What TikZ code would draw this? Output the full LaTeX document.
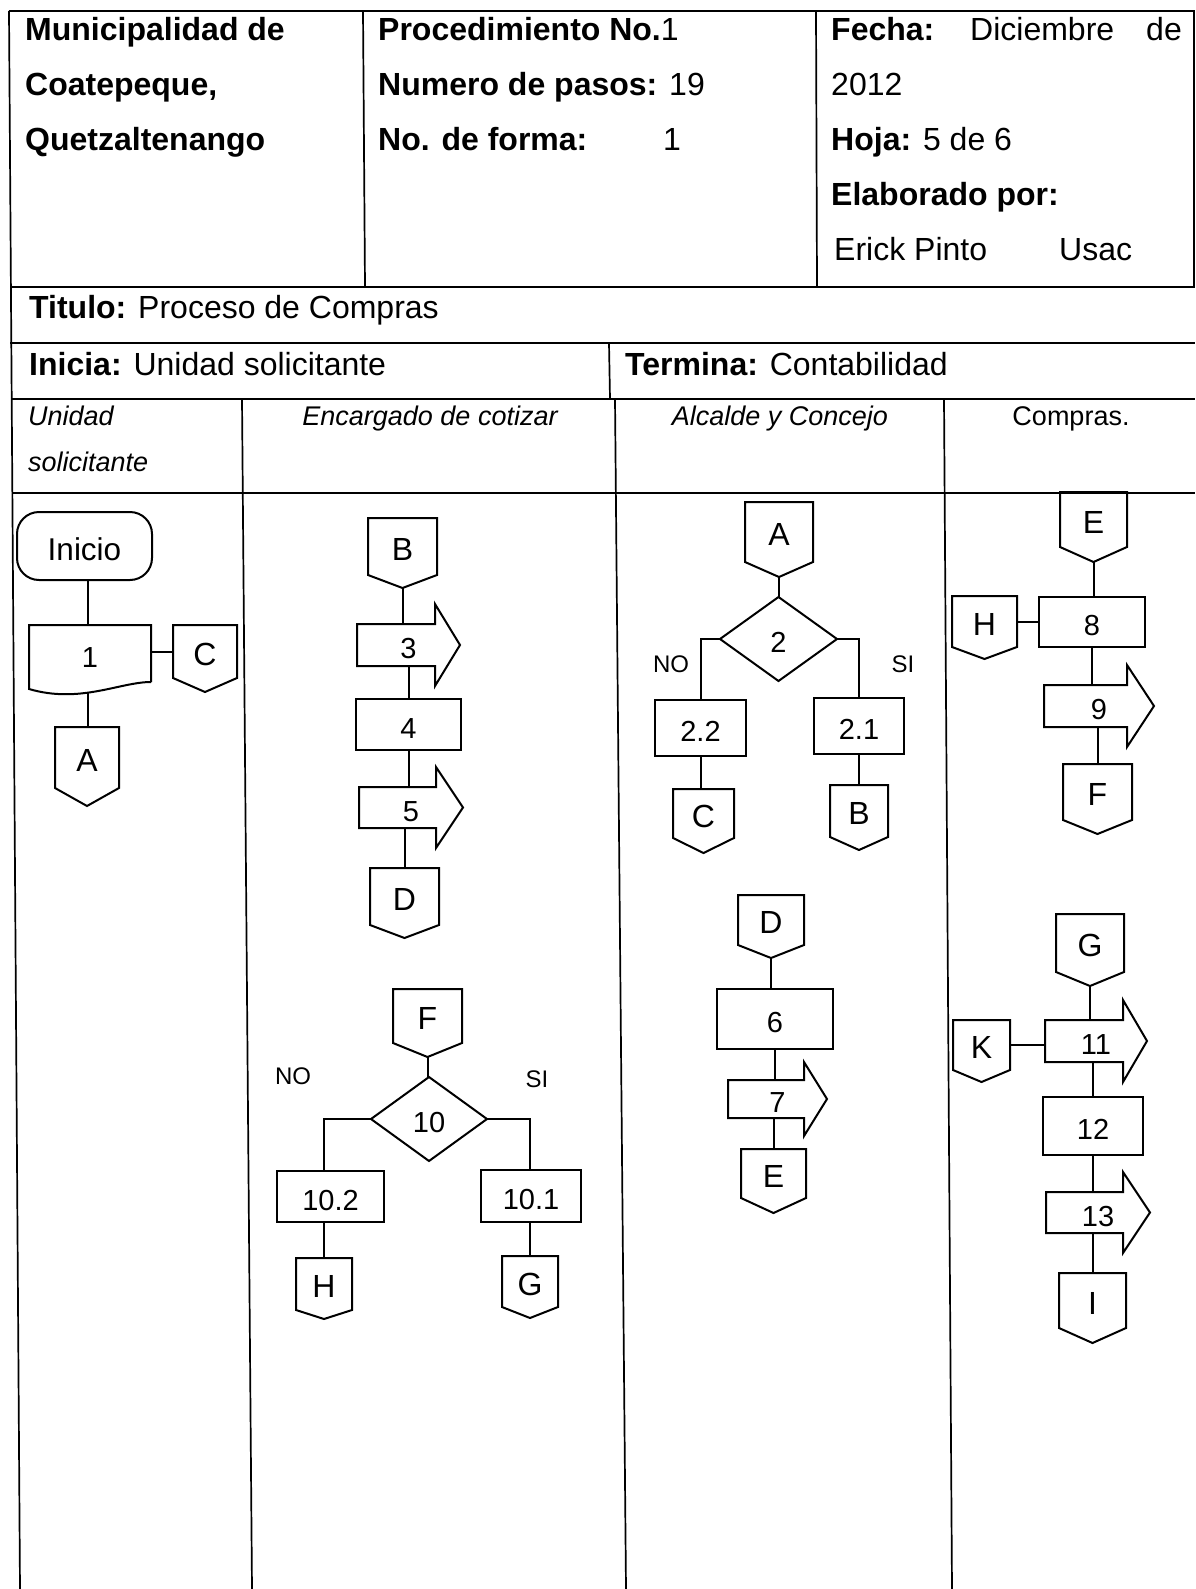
\documentclass[tikz,border=0pt]{standalone}
\usepackage{fontspec}
\setmainfont{Liberation Sans}
\usetikzlibrary{shapes.geometric}
\tikzset{
  shp/.style={line width=2pt, line join=miter},
  frm/.style={line width=1.7pt},
  con/.style={line width=2pt},
  txt/.style={inner sep=0pt, outer sep=0pt, text height=27.4pt, text depth=0pt, font=\fontsize{29}{30}\selectfont},
  ltr/.style={font=\fontsize{32}{33}\selectfont},
  pbx/.style={txt, draw, line width=2pt},
  hd/.style={anchor=base west, inner sep=0pt, font=\fontsize{32}{36}\selectfont},
  lh/.style={anchor=base, inner sep=0pt, font=\fontsize{27}{30}\selectfont\itshape},
  lbl/.style={inner sep=0pt, font=\fontsize{24}{26}\selectfont},
}
% off-page connector: name, xl, xr, ytop, yside, ytip, label
\newcommand{\offp}[7]{%
  \node[txt, ltr, minimum width={(#3-#2)*1pt}, minimum height={(#5-#4)*1pt}] (#1) at ({(#2+#3)/2},{(#4+#5)/2}) {#7};
  \draw[shp] (#1.south west) -- (#1.north west) -- (#1.north east) -- (#1.south east) -- ({(#2+#3)/2},#6) coordinate (#1-tip) -- cycle;
}
% arrow box: name, xl, ytop, xhead, ybot, xtip, ext, label
\newcommand{\arrbox}[8]{%
  \node[txt, minimum width={(#6-#2)*1pt}, minimum height={(#5-#3)*1pt}] (#1) at ({(#2+#6)/2},{(#3+#5)/2}) {#8};
  \draw[shp] (#2,#5) -- (#2,#3) -- (#4,#3) -- (#4,{#3-#7}) -- (#6,{(#3+#5)/2}) -- (#4,{#5+#7}) -- (#4,#5) -- cycle;
}
% process box: name, xl, xr, ytop, ybot, label
\newcommand{\pbox}[6]{%
  \node[pbx, minimum width={(#3-#2)*1pt}, minimum height={(#5-#4)*1pt}] (#1) at ({(#2+#3)/2},{(#4+#5)/2}) {#6};
}
\begin{document}
\begin{tikzpicture}[x=1pt,y=-1pt]
\useasboundingbox (0,0) rectangle (1195,1589);
\fill[white] (0,0) rectangle (1195,1589);

% ---------- frame ----------
\draw[frm] (9,11) -- (1195,11);
\draw[frm] (9,11) -- (20,1589);
\draw[frm] (1194,11) -- (1194,287);
\draw[frm] (363,11) -- (365,287);
\draw[frm] (816,11) -- (817,287);
\draw[frm] (10,287) -- (1195,287);
\draw[frm] (10,343) -- (1195,343);
\draw[frm] (11,399) -- (1195,399);
\draw[frm] (12,493) -- (1195,493);
\draw[frm] (609,343) -- (610,399);
\draw[frm] (242,399) -- (252,1589);
\draw[frm] (615,399) -- (626,1589);
\draw[frm] (944,399) -- (952,1589);

% ---------- header texts ----------
\node[hd] (h1) at (25,41) {\textbf{Municipalidad de}};
\node[hd] (h2) at (25,96) {\textbf{Coatepeque,}};
\node[hd] (h3) at (25,151) {\textbf{Quetzaltenango}};
\node[hd] (m1) at (378,41) {\textbf{Procedimiento No.}1};
\node[hd] (m2) at (378,96) {\textbf{Numero de pasos:} 19};
\node[hd] (m3) at (378,151) {\textbf{No. de forma:}};
\node[hd, anchor=base] (m3n) at (672,151) {1};
\node[hd] (r1) at (831,41) {\textbf{Fecha:}};
\node[hd] (r1b) at (970,41) {Diciembre};
\node[hd, anchor=base east] (r1c) at (1182,41) {de};
\node[hd] (r2) at (831,96) {2012};
\node[hd] (r3) at (831,151) {\textbf{Hoja:} 5 de 6};
\node[hd] (r4) at (831,206) {\textbf{Elaborado por:}};
\node[hd] (r5) at (834,261) {Erick Pinto};
\node[hd] (r5b) at (1059,261) {Usac};
\node[hd] (tit) at (29,318) {\textbf{Titulo:} Proceso de Compras};
\node[hd] (ini1) at (29,375) {\textbf{Inicia:} Unidad solicitante};
\node[hd] (ter1) at (625,375) {\textbf{Termina:} Contabilidad};

% ---------- lane headers ----------
\node[lh, anchor=base west] (l1a) at (28,425) {Unidad};
\node[lh, anchor=base west] (l1b) at (28,471) {solicitante};
\node[lh] (l2) at (430,425) {Encargado de cotizar};
\node[lh] (l3) at (780,425) {Alcalde y Concejo};
\node[lh, font=\fontsize{27}{30}\selectfont\upshape] (l4) at (1071,425) {Compras.};

% ---------- lane 1: Unidad solicitante ----------
\node[txt, draw, line width=2pt, rounded corners=22pt, minimum width=135, minimum height=68, text height=28.5pt, font=\fontsize{31.5}{32}\selectfont] (ini) at (84.5,546) {Inicio};
\node[txt, minimum width=122, minimum height=57] (b1) at (90,653.5) {1};
\draw[shp] (151,682) -- (151,625) -- (29,625) -- (29,689) .. controls (80,704) and (120,682) .. (151,682);
\coordinate (b1bot) at (88,693);
\offp{C1}{173}{237}{625}{678}{692}{C}
\offp{A1}{55}{119}{727}{788}{806}{A}
\draw[con] (ini.south -| b1bot) -- (b1.north -| b1bot);
\draw[con] (b1bot) -- (b1bot |- A1.north);
\draw[con] (b1.east |- C1.west) -- (C1.west);

% ---------- lane 2: Encargado de cotizar ----------
\offp{B2}{368}{437}{518}{575}{588}{B}
\arrbox{a3}{357}{624}{435}{666}{460}{20}{3}
\pbox{b4}{356}{461}{699}{750}{4}
\arrbox{a5}{359}{787}{436}{828}{463}{20}{5}
\offp{D2}{370}{439}{868}{925}{938}{D}
\draw[con] (B2-tip) -- (B2-tip |- a3.north);
\draw[con] (b4.north) -- (b4.north |- a3.south);
\draw[con] (b4.south) -- (b4.south |- a5.north);
\draw[con] (D2.north) -- (D2.north |- a5.south);

\offp{F2}{393}{462}{989}{1043}{1057}{F}
\node[txt, diamond, draw, line width=2pt, minimum width=116, minimum height=84] (d10) at (429,1119) {10};
\pbox{b102}{277}{384}{1171}{1222}{10.2}
\pbox{b101}{481}{581}{1170}{1222}{10.1}
\offp{H2}{296}{352}{1258}{1310}{1319}{H}
\offp{G2}{502}{558}{1256}{1307}{1318}{G}
\node[lbl] (no10) at (293,1076) {NO};
\node[lbl] (si10) at (537,1079) {SI};
\draw[con] (F2-tip) -- (F2-tip |- d10.north);
\draw[con] (d10.west) -| (b102.north -| H2.north);
\draw[con] (d10.east) -| (b101.north -| G2.north);
\draw[con] (H2.north) -- (H2.north |- b102.south);
\draw[con] (G2.north) -- (G2.north |- b101.south);

% ---------- lane 3: Alcalde y Concejo ----------
\offp{A3}{745}{813}{502}{562}{577}{A}
\node[txt, diamond, draw, line width=2pt, minimum width=117, minimum height=84] (d2) at (778.5,639) {2};
\pbox{b22}{655}{746}{700}{756}{2.2}
\pbox{b21}{814}{904}{698}{754}{2.1}
\offp{C3}{673}{734}{789}{838}{853}{C}
\offp{B3}{830}{888}{785}{837}{850}{B}
\node[lbl] (no2) at (671,664) {NO};
\node[lbl] (si2) at (903,664) {SI};
\draw[con] (A3-tip) -- (A3-tip |- d2.north);
\draw[con] (d2.west) -| (b22.north);
\draw[con] (d2.east) -| (b21.north);
\draw[con] (b22.south) -- (b22.south |- C3.north);
\draw[con] (b21.south) -- (b21.south |- B3.north);

\offp{D3}{738}{804}{895}{945}{958}{D}
\pbox{b6}{717}{833}{989}{1049}{6}
\arrbox{a7}{728}{1080}{804}{1118}{827}{18}{7}
\offp{E3}{741}{806}{1149}{1198}{1213}{E}
\draw[con] (D3-tip) -- (D3-tip |- b6.north);
\draw[con] (b6.south) -- (b6.south |- a7.north);
\draw[con] (E3.north) -- (E3.north |- a7.south);

% ---------- lane 4: Compras ----------
\offp{E4}{1060}{1127}{492}{547}{562}{E}
\pbox{b8}{1039}{1145}{597}{647}{8}
\offp{H4}{952}{1017}{596}{647}{659}{H}
\arrbox{a9}{1044}{685}{1127}{727}{1154}{20}{9}
\offp{F4}{1063}{1132}{764}{820}{834}{F}
\draw[con] (E4-tip) -- (E4-tip |- b8.north);
\draw[con] (H4.east) -- (H4.east -| b8.west);
\draw[con] (b8.south) -- (b8.south |- a9.north);
\draw[con] (F4.north) -- (F4.north |- a9.south);

\offp{G4}{1056}{1124}{914}{972}{986}{G}
\arrbox{a11}{1045}{1020}{1123}{1062}{1147}{20}{11}
\offp{K4}{953}{1010}{1020}{1070}{1082}{K}
\pbox{b12}{1043}{1143}{1097}{1155}{12}
\arrbox{a13}{1046}{1192}{1123}{1233}{1150}{20}{13}
\offp{I4}{1059}{1126}{1273}{1328}{1343}{I}
\draw[con] (G4-tip) -- (G4-tip |- a11.north);
\draw[con] (K4.east) -- (K4.east -| a11.west);
\draw[con] (b12.north) -- (b12.north |- a11.south);
\draw[con] (b12.south) -- (b12.south |- a13.north);
\draw[con] (I4.north) -- (I4.north |- a13.south);
\end{tikzpicture}
\end{document}
